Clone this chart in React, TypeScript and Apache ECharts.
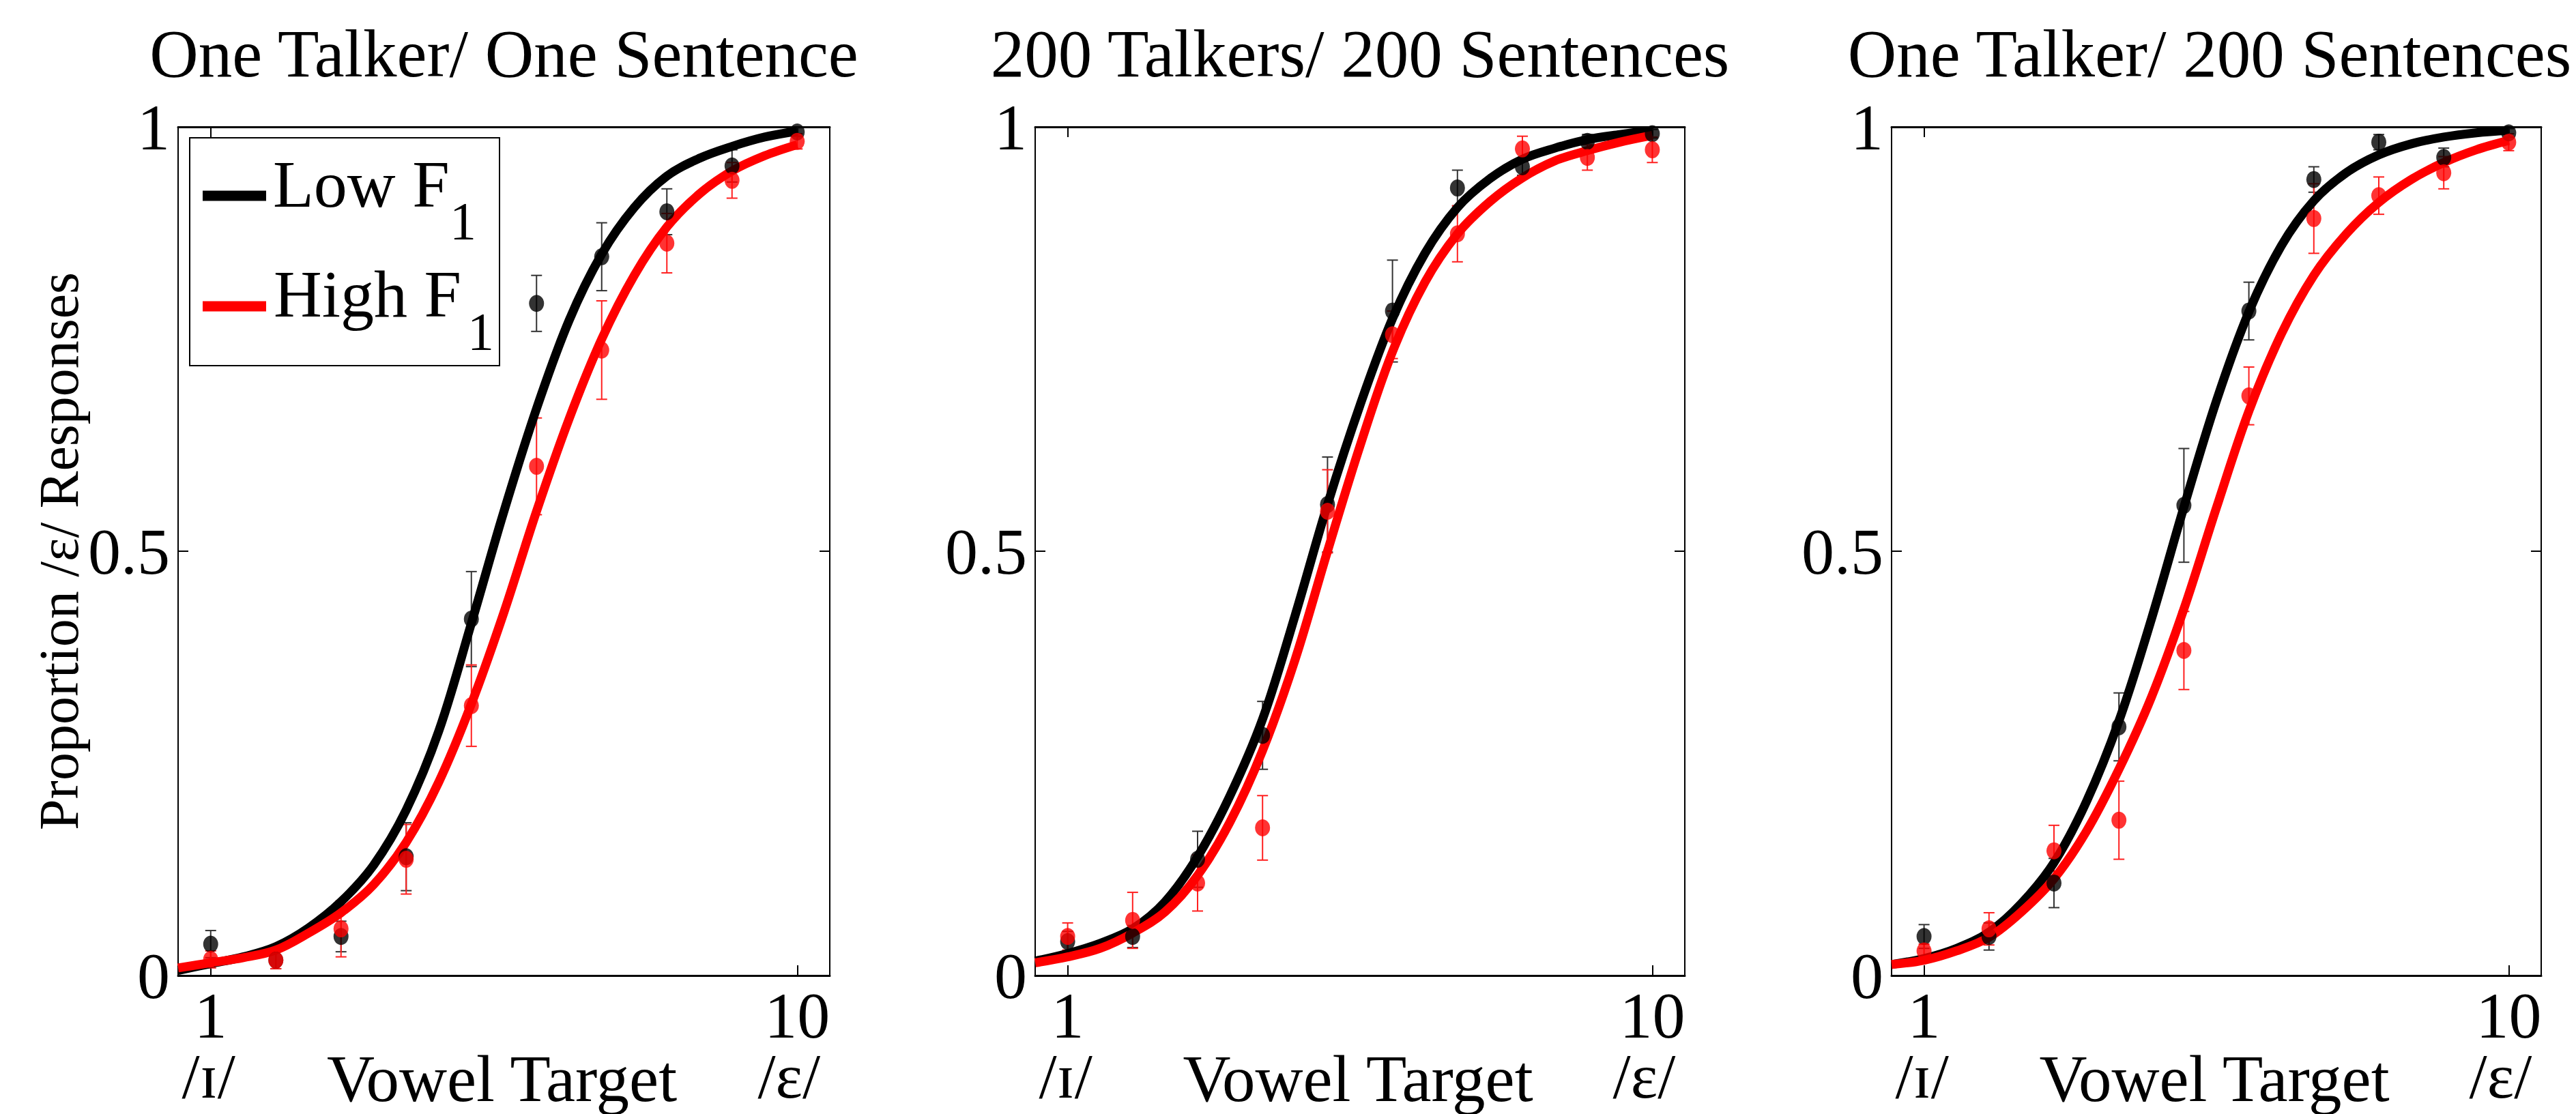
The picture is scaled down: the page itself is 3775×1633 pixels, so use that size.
import React, { useEffect, useRef } from 'react';
import * as echarts from 'echarts';

// ---------- data ----------
const TITLES = ['One Talker/ One Sentence', '200 Talkers/ 200 Sentences', 'One Talker/ 200 Sentences'];
const TARGETS = [1, 2, 3, 4, 5, 6, 7, 8, 9, 10];
const CURVE_X = [0.5, 1, 1.5, 2, 2.5, 3, 3.5, 4, 4.5, 5, 5.5, 6, 6.5, 7, 7.5, 8, 8.5, 9, 9.5, 10];
const X_TICKS = [1, 10];
const X_END_LABELS = ['/ɪ/', '/ε/'];
const X_NAME = 'Vowel Target';
const Y_NAME = 'Proportion /ε/ Responses';
const LEGEND_NAMES = ['Low F', 'High F'];

// Panel 1: One Talker / One Sentence
const P1_LOW_FIT = [0.006, 0.014, 0.022, 0.034, 0.056, 0.087, 0.130, 0.195, 0.288, 0.415, 0.547, 0.668, 0.772, 0.850, 0.905, 0.942, 0.963, 0.977, 0.988, 0.995];
const P1_HIGH_FIT = [0.009, 0.015, 0.021, 0.030, 0.050, 0.074, 0.107, 0.157, 0.228, 0.320, 0.428, 0.547, 0.656, 0.750, 0.825, 0.882, 0.921, 0.948, 0.966, 0.979];
const P1_LOW_PTS = [0.037, 0.018, 0.046, 0.140, 0.420, 0.792, 0.847, 0.900, 0.954, 0.994];
const P1_LOW_ERR = [0.016, 0.010, 0.018, 0.040, 0.056, 0.033, 0.040, 0.027, 0.019, 0.005];
const P1_HIGH_PTS = [0.019, 0.018, 0.055, 0.137, 0.318, 0.600, 0.737, 0.863, 0.937, 0.983];
const P1_HIGH_ERR = [0.010, 0.010, 0.033, 0.041, 0.048, 0.057, 0.058, 0.035, 0.021, 0.009];

// Panel 2: 200 Talkers / 200 Sentences
const P2_LOW_FIT = [0.017, 0.026, 0.038, 0.055, 0.087, 0.140, 0.212, 0.302, 0.424, 0.555, 0.672, 0.774, 0.851, 0.905, 0.939, 0.962, 0.975, 0.985, 0.991, 0.996];
const P2_HIGH_FIT = [0.015, 0.022, 0.032, 0.050, 0.075, 0.118, 0.181, 0.265, 0.372, 0.500, 0.624, 0.735, 0.817, 0.874, 0.912, 0.940, 0.960, 0.972, 0.982, 0.990];
const P2_LOW_PTS = [0.040, 0.046, 0.137, 0.283, 0.555, 0.783, 0.928, 0.953, 0.983, 0.992];
const P2_LOW_ERR = [0.012, 0.013, 0.033, 0.040, 0.056, 0.060, 0.021, 0.010, 0.008, 0.005];
const P2_HIGH_PTS = [0.046, 0.065, 0.109, 0.174, 0.547, 0.755, 0.874, 0.974, 0.964, 0.973];
const P2_HIGH_ERR = [0.016, 0.033, 0.033, 0.038, 0.049, 0.028, 0.033, 0.015, 0.015, 0.015];

// Panel 3: One Talker / 200 Sentences
const P3_LOW_FIT = [0.013, 0.020, 0.032, 0.051, 0.085, 0.133, 0.205, 0.300, 0.420, 0.552, 0.677, 0.782, 0.860, 0.913, 0.946, 0.967, 0.980, 0.988, 0.993, 0.996];
const P3_HIGH_FIT = [0.013, 0.018, 0.029, 0.045, 0.075, 0.114, 0.170, 0.243, 0.328, 0.432, 0.551, 0.665, 0.756, 0.825, 0.874, 0.911, 0.938, 0.958, 0.973, 0.984];
const P3_LOW_PTS = [0.046, 0.046, 0.109, 0.293, 0.554, 0.783, 0.938, 0.982, 0.964, 0.993];
const P3_LOW_ERR = [0.014, 0.016, 0.029, 0.040, 0.067, 0.034, 0.015, 0.009, 0.011, 0.005];
const P3_HIGH_PTS = [0.029, 0.055, 0.147, 0.183, 0.383, 0.683, 0.892, 0.919, 0.946, 0.982];
const P3_HIGH_ERR = [0.008, 0.019, 0.030, 0.046, 0.046, 0.034, 0.041, 0.022, 0.019, 0.010];

const PANELS = [
  { lowFit: P1_LOW_FIT, highFit: P1_HIGH_FIT, lowPts: P1_LOW_PTS, lowErr: P1_LOW_ERR, highPts: P1_HIGH_PTS, highErr: P1_HIGH_ERR },
  { lowFit: P2_LOW_FIT, highFit: P2_HIGH_FIT, lowPts: P2_LOW_PTS, lowErr: P2_LOW_ERR, highPts: P2_HIGH_PTS, highErr: P2_HIGH_ERR },
  { lowFit: P3_LOW_FIT, highFit: P3_HIGH_FIT, lowPts: P3_LOW_PTS, lowErr: P3_LOW_ERR, highPts: P3_HIGH_PTS, highErr: P3_HIGH_ERR },
];

// ---------- layout / style ----------
const W = 3775;
const H = 1633;
const GRID_LEFT = [261, 1517, 2772];
const GRID_W = [955, 952, 952];
const GRID_TOP = 186;
const GRID_H = 1244;
const TITLE_SHIFT = [0, 0, -10];
const FONT = "'Liberation Serif', 'Times New Roman', serif";
const BLACK = '#000000';
const RED = '#ff0000';

function errorBarSeries(xi: number, pts: number[], err: number[], color: string) {
  return {
    type: 'custom',
    xAxisIndex: xi,
    yAxisIndex: xi,
    coordinateSystem: 'cartesian2d',
    z: 2,
    silent: true,
    encode: { x: 0, y: [1, 2] },
    data: pts.map((v, i) => [TARGETS[i], v - err[i], v + err[i]]),
    renderItem: (params: any, api: any) => {
      const x = api.value(0);
      const lo = api.coord([x, api.value(1)]);
      const hi = api.coord([x, api.value(2)]);
      const cw = 8;
      const st = { stroke: color, lineWidth: 2 };
      return {
        type: 'group',
        children: [
          { type: 'line', shape: { x1: lo[0], y1: lo[1], x2: hi[0], y2: hi[1] }, style: st },
          { type: 'line', shape: { x1: lo[0] - cw, y1: lo[1], x2: lo[0] + cw, y2: lo[1] }, style: st },
          { type: 'line', shape: { x1: hi[0] - cw, y1: hi[1], x2: hi[0] + cw, y2: hi[1] }, style: st },
        ],
      };
    },
  };
}

function textEl(text: string, x: number, y: number, size: number, align = 'center', rotation = 0) {
  return {
    type: 'text',
    x,
    y,
    rotation,
    silent: true,
    style: {
      text,
      x: 0,
      y: 0,
      fill: BLACK,
      fontSize: size,
      fontFamily: FONT,
      align,
      verticalAlign: 'middle',
      textAlign: align,
      textVerticalAlign: 'middle',
    },
  };
}

export default function App() {
  const ref = useRef<HTMLDivElement>(null);

  useEffect(() => {
    if (!ref.current) return;
    const chart = echarts.init(ref.current, undefined, { renderer: 'svg', width: W, height: H });

    const grids: any[] = [];
    const xAxes: any[] = [];
    const yAxes: any[] = [];
    const series: any[] = [];
    const graphics: any[] = [];

    PANELS.forEach((p, i) => {
      grids.push({
        left: GRID_LEFT[i],
        top: GRID_TOP,
        width: GRID_W[i],
        height: GRID_H,
        containLabel: false,
        outerBoundsMode: 'none',
      });
      const xBase = {
        type: 'value',
        gridIndex: i,
        min: 0.5,
        max: 10.5,
        splitLine: { show: false },
        axisLine: { show: true, onZero: false, lineStyle: { color: BLACK, width: 3 } },
        axisTick: { show: true, inside: true, length: 15, customValues: X_TICKS, lineStyle: { color: BLACK, width: 2 } },
      };
      xAxes.push({
        ...xBase,
        position: 'bottom',
        axisLabel: { show: true, customValues: X_TICKS, fontSize: 96, fontFamily: FONT, color: BLACK, margin: 10 },
      });
      xAxes.push({ ...xBase, position: 'top', axisLabel: { show: false } });
      const yBase = {
        type: 'value',
        gridIndex: i,
        min: 0,
        max: 1,
        interval: 0.5,
        splitLine: { show: false },
        axisLine: { show: true, onZero: false, lineStyle: { color: BLACK, width: 2 } },
        axisTick: { show: true, inside: true, length: 15, lineStyle: { color: BLACK, width: 2 } },
      };
      yAxes.push({
        ...yBase,
        position: 'left',
        axisLabel: { show: true, fontSize: 96, fontFamily: FONT, color: BLACK, margin: 12 },
      });
      yAxes.push({ ...yBase, position: 'right', axisLabel: { show: false } });

      const xi = i * 2;
      series.push(errorBarSeries(xi, p.lowPts, p.lowErr, '#333333'));
      series.push(errorBarSeries(xi, p.highPts, p.highErr, '#ff2020'));
      series.push({
        type: 'line', name: LEGEND_NAMES[0], xAxisIndex: xi, yAxisIndex: xi, z: 3,
        data: CURVE_X.map((x, k) => [x, p.lowFit[k]]), smooth: 0.35,
        showSymbol: false, silent: true,
        lineStyle: { color: BLACK, width: 13 },
      });
      series.push({
        type: 'line', name: LEGEND_NAMES[1], xAxisIndex: xi, yAxisIndex: xi, z: 4,
        data: CURVE_X.map((x, k) => [x, p.highFit[k]]), smooth: 0.35,
        showSymbol: false, silent: true,
        lineStyle: { color: RED, width: 13 },
      });
      series.push({
        type: 'scatter', xAxisIndex: xi, yAxisIndex: xi, z: 5, silent: true,
        data: TARGETS.map((x, k) => [x, p.lowPts[k]]), symbol: 'circle', symbolSize: [22, 25],
        itemStyle: { color: BLACK },
      });
      series.push({
        type: 'scatter', xAxisIndex: xi, yAxisIndex: xi, z: 6, silent: true,
        data: TARGETS.map((x, k) => [x, p.highPts[k]]), symbol: 'circle', symbolSize: [22, 25],
        itemStyle: { color: RED },
      });

      const cx = GRID_LEFT[i] + GRID_W[i] / 2;
      const unit = GRID_W[i] / 10;
      const x1 = GRID_LEFT[i] + 0.5 * unit;
      const x10 = GRID_LEFT[i] + 9.5 * unit;
      graphics.push(textEl(TITLES[i], cx + TITLE_SHIFT[i], 78, 99));
      graphics.push(textEl(X_NAME, cx - 3, 1581, 97));
      graphics.push(textEl(X_END_LABELS[0], x1 - 3, 1577, 94));
      graphics.push(textEl(X_END_LABELS[1], x10 - 12, 1577, 94));
    });

    // y-axis name (first panel only)
    graphics.push(textEl(Y_NAME, 86, GRID_TOP + GRID_H / 2, 82, 'center', Math.PI / 2));

    // legend box inside first panel
    graphics.push({
      type: 'rect', silent: true, z: 10,
      shape: { x: 278, y: 202, width: 454, height: 334 },
      style: { fill: '#ffffff', stroke: BLACK, lineWidth: 2 },
    });
    graphics.push({
      type: 'line', silent: true, z: 11,
      shape: { x1: 297, y1: 287, x2: 390, y2: 287 },
      style: { stroke: BLACK, lineWidth: 15 },
    });
    graphics.push({
      type: 'line', silent: true, z: 11,
      shape: { x1: 297, y1: 449, x2: 390, y2: 449 },
      style: { stroke: RED, lineWidth: 15 },
    });
    const legTexts = [
      textEl(LEGEND_NAMES[0], 400, 270, 98, 'left'),
      textEl('1', 659, 323, 78, 'left'),
      textEl(LEGEND_NAMES[1], 401, 431, 98, 'left'),
      textEl('1', 685, 485, 78, 'left'),
    ];
    legTexts.forEach((t: any) => { t.z = 12; graphics.push(t); });

    chart.setOption({
      animation: false,
      backgroundColor: '#ffffff',
      grid: grids,
      xAxis: xAxes,
      yAxis: yAxes,
      series,
      graphic: graphics,
    });

    return () => chart.dispose();
  }, []);

  return (
    <div
      ref={ref}
      style={{ position: 'absolute', left: 0, top: 0, width: W, height: H, background: '#fff' }}
    />
  );
}
